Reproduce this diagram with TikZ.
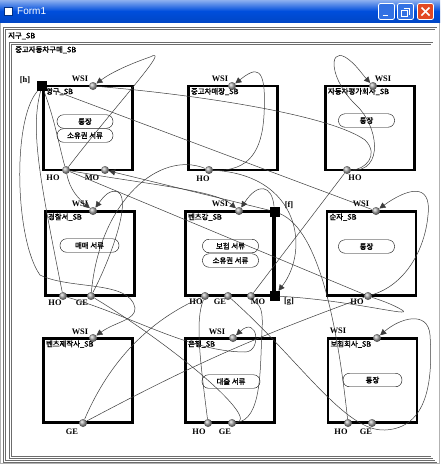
\documentclass[tikz,border=0pt]{standalone}
\usepackage{fontspec}
\setmainfont{Liberation Serif}
\newfontfamily\krfont[FakeBold=1.6]{Noto Sans CJK KR}
\newfontfamily\uifont{Liberation Sans}
\usetikzlibrary{arrows.meta,positioning}

\definecolor{xpblue}{RGB}{0,78,220}
\definecolor{xpred}{RGB}{226,72,36}
\definecolor{wirecol}{RGB}{60,60,60}

\tikzset{
  sbbox/.style={draw,line width=2.4pt,minimum width=89pt,minimum height=84pt,inner sep=0pt},
  sbname/.style={anchor=north west,font=\krfont\fontsize{7.4}{8}\selectfont,inner sep=1pt},
  doc/.style={draw,rounded corners=6.5pt,minimum width=56pt,minimum height=13.5pt,inner sep=0pt,font=\krfont\fontsize{7.4}{8}\selectfont},
  port/.style={circle,shading=ball,ball color=gray!70,minimum size=8pt,inner sep=0pt},
  plabel/.style={font=\bfseries\fontsize{8.4}{9}\selectfont,inner sep=0pt},
  marker/.style={fill=black,minimum size=10pt,inner sep=0pt},
  wire/.style={draw=wirecol,line width=0.5pt},
  arr/.style={-{Triangle[length=6pt,width=6pt]}},
  frame/.style={draw=gray!85!black,double=white,double distance=1.3pt,line width=0.7pt},
  winbtn/.style={draw=white,line width=0.8pt,rounded corners=2pt,minimum size=16pt,inner sep=0pt}
}

\begin{document}
\begin{tikzpicture}[x=1pt,y=-1pt]
\useasboundingbox (0,0) rectangle (440,464);
% window
\fill[white] (0,0) rectangle (440,464);
\draw[gray!60] (0.5,22) rectangle (439.5,463.5);
\shade[top color=xpblue!45!white,bottom color=xpblue!90!black,middle color=xpblue] (0,0) rectangle (440,22);
\node[fill=white,draw=xpblue!60!black,minimum size=8pt,inner sep=0pt] (icon) at (8,11) {};
\node[anchor=west,text=white,font=\uifont\fontsize{10}{11}\selectfont,inner sep=0pt] (title) at (17,11) {Form1};
\node[winbtn,fill=xpblue!80!white] (bmin) at (386.5,11.5) {};
\node[winbtn,fill=xpblue!80!white] (bmax) at (405.5,11.5) {};
\node[winbtn,fill=xpred] (bclose) at (425.5,11.5) {};
\draw[white,line width=1.5pt] ([shift={(-4,4)}]bmin.center) -- ([shift={(1,4)}]bmin.center);
\draw[white,line width=0.8pt] ([shift={(-4,-1)}]bmax.center) rectangle ([shift={(2,5)}]bmax.center);
\draw[white,line width=0.8pt] ([shift={(-2,-3)}]bmax.center) -- ([shift={(4,-3)}]bmax.center) -- ([shift={(4,3)}]bmax.center);
\draw[white,line width=1.6pt] ([shift={(-4,-4)}]bclose.center) -- ([shift={(4,4)}]bclose.center);
\draw[white,line width=1.6pt] ([shift={(-4,4)}]bclose.center) -- ([shift={(4,-4)}]bclose.center);

% frames
\draw[frame] (4.5,28.5) rectangle (436,461.5);
\node[sbname] (earth) at (7,31) {지구\_SB};
\draw[frame] (10.5,43.5) rectangle (432,457.5);
\node[sbname] (usedcar) at (14,45) {중고자동차구매\_SB};

% boxes
\node[sbbox] (yg) at (88,128) {};
\node[sbbox] (jm) at (233,128) {};
\node[sbbox] (pg) at (370,128) {};
\node[sbbox] (gc) at (90,253.5) {};
\node[sbbox] (bg) at (230,253.5) {};
\node[sbbox] (sj) at (371.5,253.5) {};
\node[sbbox] (bj) at (88,380.5) {};
\node[sbbox] (eh) at (230,380.5) {};
\node[sbbox] (bh) at (372.5,380.5) {};
\draw[line width=3.4pt] (274,211) -- (274,296);

\node[sbname] (yg-t) at ([shift={(2.5,2)}]yg.north west) {영구\_SB};
\node[sbname] (jm-t) at ([shift={(2.5,2)}]jm.north west) {중고차매장\_SB};
\node[sbname] (pg-t) at ([shift={(2.5,2)}]pg.north west) {자동차평가회사\_SB};
\node[sbname] (gc-t) at ([shift={(2.5,2)}]gc.north west) {경찰서\_SB};
\node[sbname] (bg-t) at ([shift={(2.5,2)}]bg.north west) {벤츠강\_SB};
\node[sbname] (sj-t) at ([shift={(2.5,2)}]sj.north west) {순자\_SB};
\node[sbname] (bj-t) at ([shift={(2.5,2)}]bj.north west) {벤츠제작사\_SB};
\node[sbname] (eh-t) at ([shift={(2.5,2)}]eh.north west) {은행\_SB};
\node[sbname] (bh-t) at ([shift={(2.5,2)}]bh.north west) {보험회사\_SB};

% documents
\node[doc] (yg-d1) at (85,121.5) {통장};
\node[doc] (yg-d2) at (85,135.5) {소유권 서류};
\node[doc] (pg-d1) at (366.5,120.5) {통장};
\node[doc,minimum width=59pt] (gc-d1) at (89.5,245.5) {매매 서류};
\node[doc] (bg-d1) at (230.5,246) {보험 서류};
\node[doc] (bg-d2) at (230.5,260.5) {소유권 서류};
\node[doc] (sj-d1) at (366.5,246.5) {통장};
\node[doc,minimum width=58pt] (eh-d1) at (231,381.5) {대출 서류};
\node[doc,minimum width=59pt] (bh-d1) at (372.5,380) {통장};

% ports
\node[port] (yg-wsi) at (93,86) {};
\node[port] (yg-ho) at (66,170) {};
\node[port] (yg-mo) at (105,170) {};
\node[port] (jm-wsi) at (232,86) {};
\node[port] (jm-ho) at (209,170) {};
\node[port] (pg-wsi) at (373,86) {};
\node[port] (pg-ho) at (347,170) {};
\node[port] (gc-wsi) at (93,211) {};
\node[port] (gc-ho) at (63,296) {};
\node[port] (gc-ge) at (91,296) {};
\node[port] (bg-wsi) at (239,211) {};
\node[port] (bg-ho) at (205,296) {};
\node[port] (bg-ge) at (228,296) {};
\node[port] (bg-mo) at (251,296) {};
\node[port] (sj-wsi) at (376,211) {};
\node[port] (sj-ho) at (368,296) {};
\node[port] (bj-wsi) at (93,338) {};
\node[port] (bj-ge) at (83,423) {};
\node[port] (eh-wsi) at (233,338) {};
\node[port] (eh-ho) at (208,423) {};
\node[port] (eh-ge) at (232,423) {};
\node[port] (bh-wsi) at (377,338) {};
\node[port] (bh-ho) at (348,423) {};
\node[port] (bh-ge) at (372,423) {};

\node[marker] (sq-h) at (42,86) {};
\node[marker] (sq-f) at (274.5,211.5) {};
\node[marker] (sq-g) at (274.5,296) {};

% port labels
\node[plabel] (l1) at (80,79) {WSI};
\node[plabel] (l2) at (53,178) {HO};
\node[plabel] (l3) at (92,178) {MO};
\node[plabel] (l4) at (220,79) {WSI};
\node[plabel] (l5) at (203,179) {HO};
\node[plabel] (l6) at (383,79) {WSI};
\node[plabel] (l7) at (355,178) {HO};
\node[plabel] (l8) at (80,204) {WSI};
\node[plabel] (l9) at (55,303) {HO};
\node[plabel] (l10) at (82,303) {GE};
\node[plabel] (l11) at (220,204) {WSI};
\node[plabel] (l12) at (196,302) {HO};
\node[plabel] (l13) at (220,302) {GE};
\node[plabel] (l14) at (258,302) {MO};
\node[plabel] (l15) at (361,204) {WSI};
\node[plabel] (l16) at (357,302) {HO};
\node[plabel] (l17) at (80,332) {WSI};
\node[plabel] (l18) at (72,432) {GE};
\node[plabel] (l19) at (217,332) {WSI};
\node[plabel] (l20) at (199,432) {HO};
\node[plabel] (l21) at (225,432) {GE};
\node[plabel] (l22) at (338,331) {WSI};
\node[plabel] (l23) at (341,432) {HO};
\node[plabel] (l24) at (366,432) {GE};
\node[plabel] (lh) at (25,80) {[h]};
\node[plabel] (lf) at (289,205) {[f]};
\node[plabel] (lg) at (289,302) {[g]};

% wires
\draw[wire,arr] (yg-ho) .. controls (120,100) and (172,45) .. (150,57) .. controls (130,64) and (112,72) .. (yg-wsi);
\draw[wire,arr] (jm-ho) .. controls (250,172) and (262,150) .. (264,115) .. controls (267,62) and (255,68) .. (jm-wsi);
\draw[wire,arr] (pg-ho) .. controls (385,172) and (378,125) .. (356,105) .. controls (330,80) and (328,48) .. (345,57) .. controls (355,63) and (362,74) .. (pg-wsi);
\draw[wire,arr] (sj-ho) .. controls (405,285) and (425,250) .. (428,215) .. controls (432,180) and (405,190) .. (sj-wsi);
\draw[wire,arr] (bg-ge) .. controls (300,360) and (345,432) .. (385,430) .. controls (428,428) and (433,380) .. (430,335) .. controls (428,310) and (400,318) .. (bh-wsi);
\draw[wire] (sq-g) .. controls (350,300) and (415,318) .. (402,310) .. controls (392,304) and (380,300) .. (sj-ho);
\draw[wire] (eh-ge) .. controls (262,420) and (260,370) .. (262,330) .. controls (264,300) and (255,305) .. (bg-mo);
\draw[wire,arr] (gc-ho) .. controls (130,315) and (190,352) .. (245,352) .. controls (262,352) and (258,315) .. (eh-wsi);
\draw[wire] (bj-ge) to[bend left=4] (sj-ho);
\draw[wire] (bj-ge) .. controls (110,360) and (150,320) .. (bg-ho);
\draw[wire,arr] (sq-h) .. controls (12,120) and (15,240) .. (40,275) .. controls (70,290) and (130,280) .. (135,308) .. controls (136,320) and (115,322) .. (bj-wsi);
\draw[wire,arr] (yg-ho) .. controls (70,190) and (78,198) .. (gc-wsi);
\draw[wire,arr] (gc-ge) .. controls (110,260) and (132,200) .. (118,192) .. controls (110,189) and (104,196) .. (gc-wsi);
\draw[wire,arr] (yg-ho) .. controls (150,185) and (215,190) .. (bg-wsi);
\draw[wire] (yg-ho) -- (sj-ho);
\draw[wire] (sq-h) -- (sj-wsi);
\draw[wire] (pg-ho) -- (bg-mo);
\draw[wire,arr] (jm-ho) .. controls (300,175) and (310,250) .. (sq-g);
\draw[wire,arr] (sq-f) .. controls (272,185) and (258,182) .. (bg-wsi);
\draw[wire] (yg-wsi) .. controls (200,95) and (330,115) .. (365,140) .. controls (380,155) and (365,170) .. (pg-ho);
\draw[wire] (gc-ge) .. controls (100,200) and (160,150) .. (jm-ho);
\draw[wire,arr] (sq-f) -- (yg-mo);
\draw[wire] (bh-ho) .. controls (338,330) and (320,230) .. (sq-f);
\draw[wire] (eh-ho) .. controls (200,360) and (195,320) .. (bg-ho);
\draw[wire] (gc-ge) .. controls (180,350) and (260,420) .. (eh-ge);
\draw[wire] (sq-h) .. controls (55,120) and (60,150) .. (yg-ho);
\draw[wire] (sq-h) .. controls (30,130) and (40,180) .. (gc-ho);
\end{tikzpicture}
\end{document}
